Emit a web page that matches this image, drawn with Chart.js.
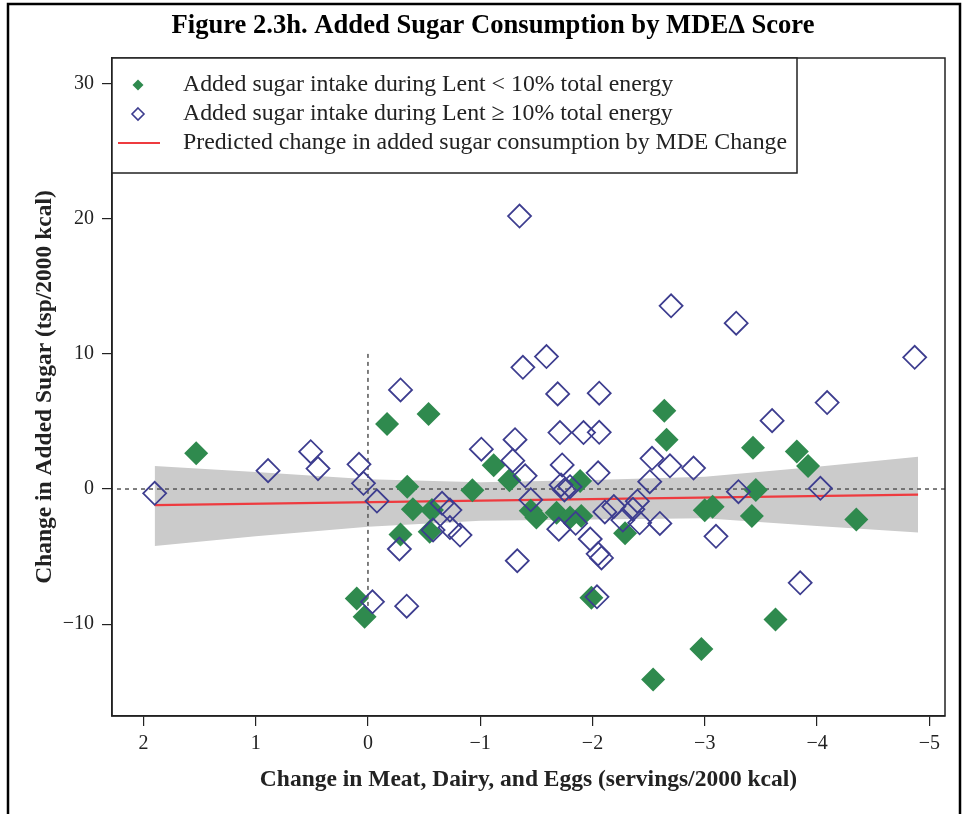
<!DOCTYPE html>
<html>
<head>
<meta charset="utf-8">
<script src="https://cdn.jsdelivr.net/npm/chart.js@4.4.1/dist/chart.umd.min.js"></script>
<style>
  html, body { margin: 0; padding: 0; background: #fff; }
  #wrap { width: 966px; height: 814px; position: relative; }
</style>
</head>
<body>
<div id="wrap"><canvas id="c" width="966" height="814"></canvas></div>
<script>
// ---- text ----
const titleText = 'Figure 2.3h. Added Sugar Consumption by MDE\u0394 Score';
const xAxisTitle = 'Change in Meat, Dairy, and Eggs (servings/2000 kcal)';
const yAxisTitle = 'Change in Added Sugar (tsp/2000 kcal)';
const legendLabels = [
  'Added sugar intake during Lent < 10% total energy',
  'Added sugar intake during Lent \u2265 10% total energy',
  'Predicted change in added sugar consumption by MDE Change'
];

// ---- axis ranges and ticks ----
const xRange = [-5.14, 2.28];
const yRange = [-16.8, 31.9];
const xTicks = [2, 1, 0, -1, -2, -3, -4, -5];
const yTicks = [30, 20, 10, 0, -10];

// ---- participants with added sugar < 10% of energy ----
const lowX = [1.53, -0.17, -0.54, -0.35, -0.40, -0.57, -0.55, -0.29, 0.10, 0.03,
  -0.93, -1.12, -1.26, -1.45, -1.50, -1.68, -1.80, -1.90, -1.89, -1.99,
  -2.29, -2.64, -2.66, -3.00, -3.07, -3.43, -3.455, -3.42, -3.82, -3.92,
  -4.35, -3.63, -2.97, -2.54];
const lowY = [2.64, 4.81, 5.56, 0.17, -1.50, -1.56, -3.16, -3.37, -8.10, -9.46,
  -0.10, 1.75, 0.65, -1.60, -2.10, -1.75, -2.10, -2.00, 0.60, -8.05,
  -3.28, 5.80, 3.65, -1.58, -1.31, 3.06, -0.07, -2.00, 2.77, 1.70,
  -2.25, -9.65, -11.85, -14.10];

// ---- participants with added sugar >= 10% of energy ----
const highX = [1.90, 0.89, 0.51, 0.445, 0.08, 0.04, -0.08, -0.29, -0.28, -0.04,
  -0.345, -0.66, -0.73, -0.58, -0.73, -0.82, -1.01, -1.31, -1.29, -1.40,
  -1.45, -1.38, -1.59, -1.35, -1.33, -1.69, -1.71, -1.92, -2.06, -2.06,
  -1.73, -2.05, -1.72, -1.75, -1.80, -1.70, -1.85, -1.98, -2.05, -2.08,
  -2.04, -2.11, -2.19, -2.27, -2.36, -2.42, -2.60, -2.40, -2.51, -2.53,
  -2.69, -2.90, -2.70, -3.28, -4.87, -3.10, -3.30, -3.60, -4.09, -4.03,
  -3.85];
const highY = [-0.32, 1.36, 2.76, 1.51, 1.83, 0.42, -0.89, 7.33, -4.44, -8.35,
  -8.67, -1.06, -1.56, -3.04, -2.85, -3.41, 2.95, 3.65, 2.10, 0.98,
  -0.80, 9.01, 9.80, 20.20, -5.31, 7.04, 4.18, 4.18, 4.20, 7.09,
  1.78, 1.20, 0.30, -0.07, 0.17, -2.97, -2.54, -3.70, -4.80, -5.10,
  -7.98, -1.70, -1.30, -2.30, -1.50, -2.50, -2.55, -0.90, 0.54, 2.27,
  1.72, 1.55, 13.56, 12.27, 9.75, -3.50, -0.20, 5.06, 6.40, 0.05,
  -6.94];

// ---- fitted line and its confidence band ----
const fitX = [1.9, -4.9];
const fitY = [-1.20, -0.42];
const bandX = [1.9, 1, 0, -1, -2, -3, -4, -4.9];
const bandUpper = [1.70, 1.25, 0.73, 0.50, 0.67, 0.91, 1.65, 2.39];
const bandLower = [-4.22, -3.50, -2.80, -2.35, -2.25, -2.17, -2.74, -3.21];

// ---- reference lines ----
const refVX = [0, 0], refVY = [10, -10];

const GREEN = '#2f8a4e';
const BLUE = '#3d3d8f';
const RED = '#ee3b3f';
const BAND = '#cbcbcb';
const SERIF = '"Liberation Serif", "Times New Roman", serif';

const pts = (xs, ys) => xs.map((x, i) => ({ x, y: ys[i] }));
const minus = v => (v < 0 ? '\u2212' + Math.abs(v) : String(v));

// box, legend, title and page frame
const decor = {
  id: 'decor',
  afterDraw(chart) {
    const { ctx, chartArea: a } = chart;
    ctx.save();
    // plot frame
    ctx.strokeStyle = '#222';
    ctx.lineWidth = 1.5;
    ctx.strokeRect(a.left, a.top, a.right - a.left, a.bottom - a.top);

    // legend box
    const lx = a.left, ly = a.top, lw = 797 - a.left, lh = 115;
    ctx.fillStyle = '#fff';
    ctx.fillRect(lx, ly, lw, lh);
    ctx.strokeRect(lx, ly, lw, lh);
    const rowY = [ly + 27, ly + 56, ly + 85];
    // filled diamond
    ctx.fillStyle = GREEN;
    ctx.beginPath();
    ctx.moveTo(138, rowY[0] - 5.5); ctx.lineTo(143.5, rowY[0]);
    ctx.lineTo(138, rowY[0] + 5.5); ctx.lineTo(132.5, rowY[0]);
    ctx.closePath(); ctx.fill();
    // open diamond
    ctx.strokeStyle = BLUE; ctx.lineWidth = 1.6;
    ctx.beginPath();
    ctx.moveTo(138, rowY[1] - 6); ctx.lineTo(144, rowY[1]);
    ctx.lineTo(138, rowY[1] + 6); ctx.lineTo(132, rowY[1]);
    ctx.closePath(); ctx.stroke();
    // line sample
    ctx.strokeStyle = RED; ctx.lineWidth = 2.2;
    ctx.beginPath(); ctx.moveTo(118, rowY[2]); ctx.lineTo(160, rowY[2]); ctx.stroke();
    ctx.fillStyle = '#222';
    ctx.font = '23.8px ' + SERIF;
    ctx.textBaseline = 'middle';
    ctx.textAlign = 'left';
    legendLabels.forEach((t, i) => ctx.fillText(t, 183, rowY[i]));

    // title
    ctx.fillStyle = '#000';
    ctx.font = 'bold 26.6px ' + SERIF;
    ctx.textAlign = 'center';
    ctx.fillText(titleText, 493, 26);

    // page frame
    ctx.strokeStyle = '#000';
    ctx.lineWidth = 2.5;
    ctx.beginPath();
    ctx.moveTo(8, 830); ctx.lineTo(8, 4); ctx.lineTo(960, 4); ctx.lineTo(960, 830);
    ctx.stroke();
    ctx.restore();
  }
};

new Chart(document.getElementById('c'), {
  type: 'scatter',
  data: {
    datasets: [
      { label: 'upper', data: pts(bandX, bandUpper), type: 'line', showLine: true,
        pointRadius: 0, borderWidth: 0, borderColor: BAND, backgroundColor: BAND,
        fill: '+1', order: 6, tension: 0 },
      { label: 'lower', data: pts(bandX, bandLower), type: 'line', showLine: true,
        pointRadius: 0, borderWidth: 0, borderColor: BAND, fill: false, order: 6, tension: 0 },
      { label: 'zeroH', data: pts(xRange, [0, 0]), type: 'line', showLine: true,
        pointRadius: 0, borderWidth: 1.5, borderColor: '#555', borderDash: [4, 4], fill: false, order: 5 },
      { label: 'zeroV', data: pts(refVX, refVY), type: 'line', showLine: true,
        pointRadius: 0, borderWidth: 1.5, borderColor: '#555', borderDash: [4, 4], fill: false, order: 5 },
      { label: legendLabels[2], data: pts(fitX, fitY), type: 'line', showLine: true,
        pointRadius: 0, borderWidth: 2.2, borderColor: RED, fill: false, order: 4 },
      { label: legendLabels[0], data: pts(lowX, lowY), pointStyle: 'rectRot',
        pointRadius: 12, pointHoverRadius: 12, backgroundColor: GREEN, borderColor: GREEN,
        borderWidth: 0, order: 3 },
      { label: legendLabels[1], data: pts(highX, highY), pointStyle: 'rectRot',
        pointRadius: 11.5, pointHoverRadius: 11.5, backgroundColor: 'rgba(0,0,0,0)',
        borderColor: BLUE, borderWidth: 1.8, order: 2 }
    ]
  },
  options: {
    responsive: false,
    animation: false,
    devicePixelRatio: 1,
    layout: { padding: { top: 58, left: 20, right: 21, bottom: 0 } },
    plugins: { legend: { display: false }, tooltip: { enabled: false }, title: { display: false } },
    scales: {
      x: {
        type: 'linear', reverse: true, min: xRange[0], max: xRange[1],
        afterBuildTicks: s => { s.ticks = xTicks.map(v => ({ value: v })); },
        afterFit: s => { s.height = 98; },
        grid: { drawOnChartArea: false, drawTicks: true, tickLength: 10, color: '#222', lineWidth: 1.2 },
        border: { display: true, color: '#222', width: 1.5 },
        ticks: { callback: minus, color: '#222', padding: 6, maxRotation: 0,
          font: { family: SERIF, size: 20 } },
        title: { display: true, text: xAxisTitle, color: '#222',
          font: { family: SERIF, size: 23.5, weight: 'bold' }, padding: { bottom: 20 } }
      },
      y: {
        type: 'linear', min: yRange[0], max: yRange[1],
        afterBuildTicks: s => { s.ticks = yTicks.map(v => ({ value: v })); },
        afterFit: s => { s.width = 92; },
        grid: { drawOnChartArea: false, drawTicks: true, tickLength: 10, color: '#222', lineWidth: 1.2 },
        border: { display: true, color: '#222', width: 1.5 },
        ticks: { callback: minus, color: '#222', padding: 8,
          font: { family: SERIF, size: 20 } },
        title: { display: true, text: yAxisTitle, color: '#222',
          font: { family: SERIF, size: 23.5, weight: 'bold' }, padding: { top: 11 } }
      }
    }
  },
  plugins: [decor]
});
</script>
</body>
</html>
